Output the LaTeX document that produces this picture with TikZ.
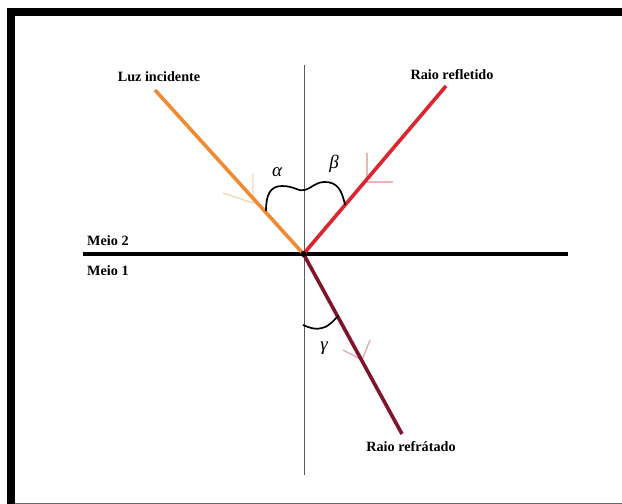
\documentclass[tikz,border=0pt]{standalone}
\usepackage{fontspec}
\setmainfont{Liberation Serif}
\usetikzlibrary{positioning, calc}

\definecolor{incOrange}{RGB}{240,138,52}
\definecolor{refRed}{RGB}{222,36,46}
\definecolor{frtMaroon}{RGB}{128,20,40}

\begin{document}
\begin{tikzpicture}[
  x=1pt, y=-1pt,
  ray/.style={line width=3.6pt},
  faint/.style={line width=1.3pt, opacity=0.35},
  lbl/.style={font=\fontsize{14.2}{16}\selectfont\bfseries, inner sep=0pt},
  ang/.style={font=\fontsize{19}{22}\selectfont\itshape, inner sep=0pt},
  brace/.style={line width=1.7pt, black}
  ]
  \useasboundingbox (0,0) rectangle (622,504);
  % moldura
  \fill (7,8) rectangle (622,16);
  \fill (7,8) rectangle (15,504);
  \draw[gray!80!black, line width=1.2pt] (15,503.4) -- (622,503.4);
  \coordinate (O) at (303.5,254);
  \coordinate (N1) at (304,65);
  \coordinate (N2) at (304,475);
  \coordinate (S1) at (83,254);
  \coordinate (S2) at (568,254);
  \coordinate (I) at (155,90);
  \coordinate (R) at (446,86);
  \coordinate (T) at (402,434);
  \draw[gray!70!black, line width=0.9pt] (N1) -- (N2);
  \draw[line width=4.4pt] (S1) -- (S2);
  \draw[ray, incOrange] (I) -- (O);
  \draw[ray, refRed] (O) -- (R);
  \draw[ray, frtMaroon] (O) -- (T);
  \fill (O) circle (3pt);
  % setas claras
  \coordinate (tI) at (253,203);
  \coordinate (tR) at (367,182);
  \coordinate (tT) at (362,360);
  \draw[faint, incOrange] (tI) ++(-30,-10) -- (tI) -- ++(0,-30);
  \draw[faint, refRed] (tR) ++(0,-29) -- (tR) -- ++(26,0);
  \draw[faint, frtMaroon!70!red] (tT) ++(-19,-10) -- (tT) -- ++(8,-20);
  % angulos
  \draw[brace] (266,211) .. controls (266,195) and (270,186) .. (282,186)
    .. controls (295,186) and (298,192) .. (305,190);
  \draw[brace] (305,190) .. controls (312,188) and (315,182) .. (325,182)
    .. controls (337,182) and (342,190) .. (345,205);
  \draw[brace] (303,325) .. controls (310,328) and (316,330) .. (322,328)
    .. controls (330,326) and (334,320) .. (338,316);
  \node[ang] (alpha) at (277,172) {α};
  \node[ang] (beta) at (334,164) {β};
  \node[ang] (gamma) at (324,348) {γ};
  % textos
  \node[lbl] (luz) at (159,77) {Luz incidente};
  \node[lbl] (refl) at (452,75) {Raio refletido};
  \node[lbl] (refr) at (411,447) {Raio refrátado};
  \node[lbl, anchor=west] (m2) at (87,241) {Meio 2};
  \node[lbl, anchor=west] (m1) at (87,271) {Meio 1};
\end{tikzpicture}
\end{document}
